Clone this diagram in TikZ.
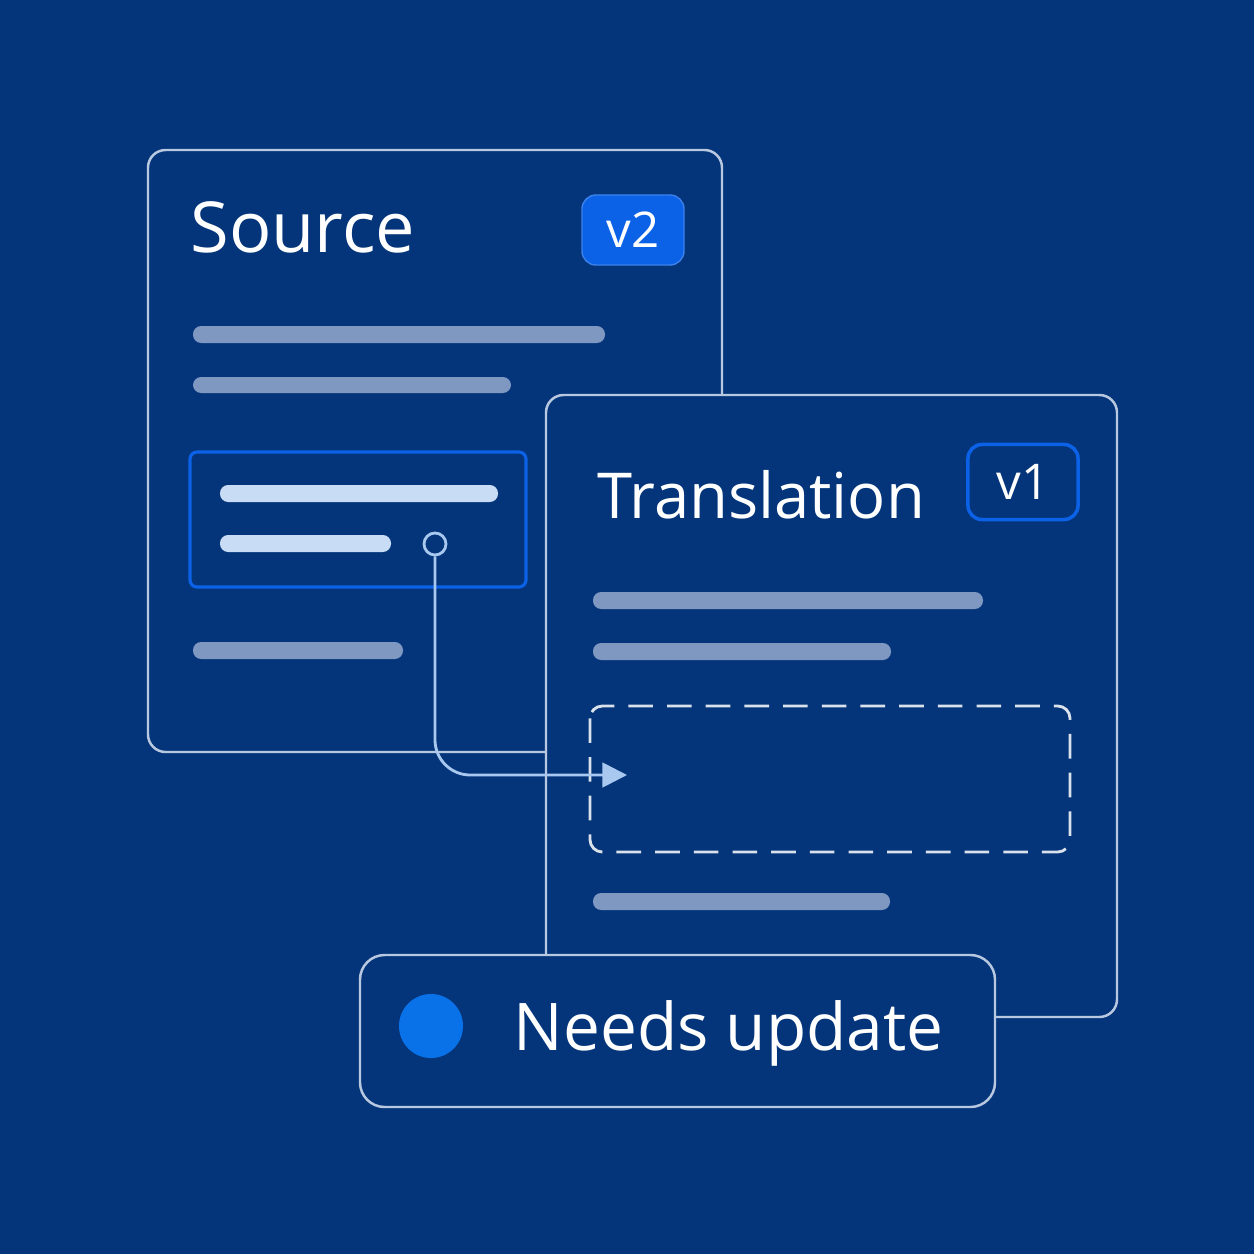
\documentclass[tikz,border=0pt]{standalone}
\usepackage{fontspec}
\setmainfont{Open Sans}
\usetikzlibrary{positioning,arrows.meta}
\definecolor{bgblue}{HTML}{04357A}
\definecolor{edgegray}{HTML}{B8C8E0}
\definecolor{barblue}{HTML}{7F98C2}
\definecolor{barlight}{HTML}{C9DCF5}
\definecolor{accent}{HTML}{0B62E6}
\definecolor{wire}{HTML}{A9C8F0}
\tikzset{
  card/.style={draw=edgegray, line width=0.7pt, fill=bgblue, rounded corners=5pt},
  bar/.style={fill=barblue, rounded corners=2.3pt},
  lightbar/.style={fill=barlight, rounded corners=2.3pt},
  title/.style={text=white, anchor=west, inner sep=0pt},
  badge/.style={rounded corners=4pt, minimum width=1.02cm, minimum height=0.7cm, text=white, font=\fontsize{14}{17}\selectfont},
}
\begin{document}
\begin{tikzpicture}[x=0.01cm,y=-0.01cm]
\fill[bgblue] (0,0) rectangle (1254,1254);
% source card
\draw[card] (148,150) rectangle (722,752);
\node[title, font=\fontsize{20}{24}\selectfont] (src) at (190,227) {Source};
\node[badge, fill=accent, draw=accent!80!white] (v2) at (633,230) {v2};
\fill[bar] (193,326) rectangle (605,343);
\fill[bar] (193,377) rectangle (511,393);
\draw[draw=accent, line width=0.9pt, rounded corners=2pt] (190,452) rectangle (526,587);
\fill[lightbar] (220,485) rectangle (498,502);
\fill[lightbar] (220,535) rectangle (391,552);
\fill[bar] (193,642) rectangle (403,659);
% translation card
\draw[card] (546,395) rectangle (1117,1017);
\node[title, font=\fontsize{18}{22}\selectfont] (trg) at (597,495) {Translation};
\node[badge, draw=accent, line width=1pt, minimum width=1.1cm, minimum height=0.75cm] (v1) at (1023,482) {v1};
\fill[bar] (593,592) rectangle (983,609);
\fill[bar] (593,643) rectangle (891,660);
\draw[white!85!bgblue, dash pattern=on 7pt off 4pt, line width=0.8pt, rounded corners=3.5pt] (590,706) rectangle (1070,852);
\fill[bar] (593,893) rectangle (890,910);
% link
\node[draw=wire, circle, inner sep=0pt, minimum size=0.22cm, line width=0.8pt] (dot) at (435,544) {};
\coordinate (slot) at (627,775);
\draw[wire, line width=0.8pt, -{Triangle[width=7pt,length=7pt]}, rounded corners=10pt] (dot) |- (slot);
% status pill
\draw[card, rounded corners=7pt] (360,955) rectangle (995,1107);
\node[circle, fill=accent!90!cyan, minimum size=0.64cm, inner sep=0pt] (led) at (431,1026) {};
\node[title, font=\fontsize{18.7}{22}\selectfont] (state) at (513,1033) {Needs update};
\end{tikzpicture}
\end{document}
